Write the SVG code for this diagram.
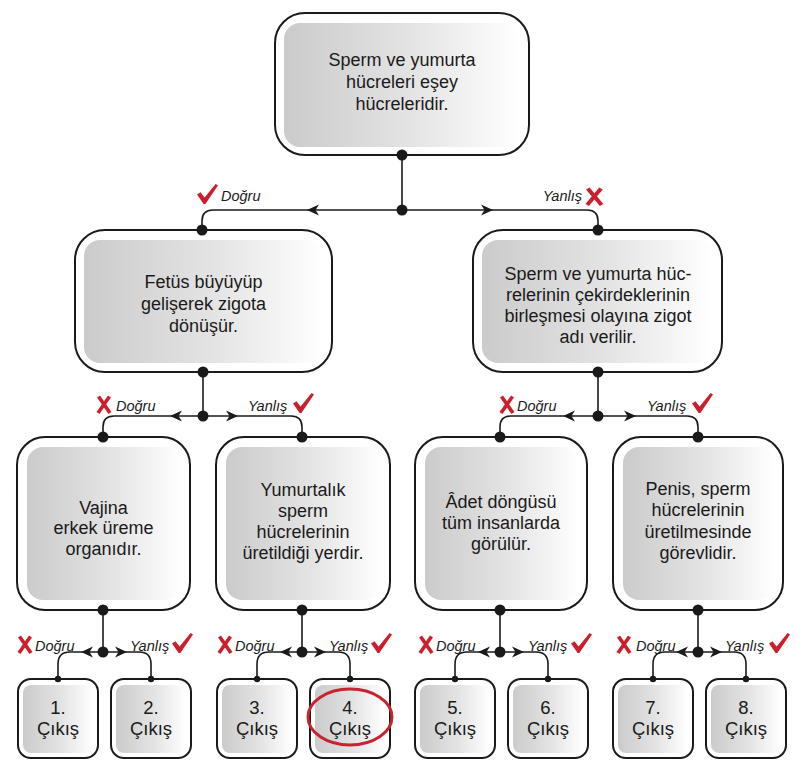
<svg xmlns="http://www.w3.org/2000/svg" xmlns:xlink="http://www.w3.org/1999/xlink" width="800" height="773" viewBox="0 0 800 773">
<defs>
<linearGradient id="g" x1="0" y1="0" x2="1" y2="0">
<stop offset="0" stop-color="#cbcbcb"/>
<stop offset="0.55" stop-color="#e4e4e4"/>
<stop offset="1" stop-color="#ffffff"/>
</linearGradient>
<path id="ah" d="M0,0 L12,-5.5 L8.5,0 L12,5.5 Z" fill="#1a1a1a"/>
<path id="chk" d="M0,10.5 L3.5,8.3 L7.6,13.4 L18.6,0 L21,1.6 L8.4,20 L6.6,20 Z" fill="#cc1f2d"/>
<g id="xm"><path d="M1.5,0.5 L13,17" /><path d="M12.5,0.5 L1,17"/></g>
<style>
.ob{fill:#ffffff;stroke:#1a1a1a;stroke-width:2}
.ib{fill:url(#g);stroke:none}
.t{font-family:"Liberation Sans",Arial,sans-serif;font-size:18px;fill:#1a1a1a;text-anchor:middle}
.tc{font-family:"Liberation Sans",Arial,sans-serif;font-size:18.5px;fill:#1a1a1a;text-anchor:middle}
.lb{font-family:"Liberation Sans",Arial,sans-serif;font-size:14.5px;font-style:italic;fill:#1a1a1a}
.ln{fill:none;stroke:#1a1a1a;stroke-width:1.6}
.d{fill:#1a1a1a}
.x{fill:none;stroke:#cc1f2d;stroke-width:3.6;stroke-linecap:butt}
</style>
</defs>

<!-- connectors -->
<g id="connectors">
<path class="ln" d="M402,155 V210"/>
<path class="ln" d="M202,230 V221 Q202,210 213,210 H587 Q598,210 598,221 V230"/>
<use href="#ah" x="307" y="210"/>
<use href="#ah" transform="translate(493,210) scale(-1,1)"/>

<path class="ln" d="M203,372 V416"/>
<path class="ln" d="M103,437 V427 Q103,416 114,416 H291 Q302,416 302,427 V437"/>
<use href="#ah" x="170" y="416"/>
<use href="#ah" transform="translate(238,416) scale(-1,1)"/>

<path class="ln" d="M598,372 V416"/>
<path class="ln" d="M500,437 V427 Q500,416 511,416 H687 Q698,416 698,427 V437"/>
<use href="#ah" x="563" y="416"/>
<use href="#ah" transform="translate(636,416) scale(-1,1)"/>

<path class="ln" d="M103,610 V652"/>
<path class="ln" d="M58,679 V664 Q58,652 70,652 H139 Q151,652 151,664 V679"/>
<use href="#ah" x="81" y="652"/>
<use href="#ah" transform="translate(127,652) scale(-1,1)"/>

<path class="ln" d="M302,610 V652"/>
<path class="ln" d="M257,679 V664 Q257,652 269,652 H338 Q350,652 350,664 V679"/>
<use href="#ah" x="280" y="652"/>
<use href="#ah" transform="translate(326,652) scale(-1,1)"/>

<path class="ln" d="M500,610 V652"/>
<path class="ln" d="M455,679 V664 Q455,652 467,652 H536 Q548,652 548,664 V679"/>
<use href="#ah" x="478" y="652"/>
<use href="#ah" transform="translate(524,652) scale(-1,1)"/>

<path class="ln" d="M698,610 V652"/>
<path class="ln" d="M653,679 V664 Q653,652 665,652 H734 Q746,652 746,664 V679"/>
<use href="#ah" x="676" y="652"/>
<use href="#ah" transform="translate(722,652) scale(-1,1)"/>

<g class="d">
<circle cx="402" cy="210" r="5.5"/>
<circle cx="203" cy="416" r="5.5"/>
<circle cx="598" cy="416" r="5.5"/>
<circle cx="103" cy="652" r="5.5"/>
<circle cx="302" cy="652" r="5.5"/>
<circle cx="500" cy="652" r="5.5"/>
<circle cx="698" cy="652" r="5.5"/>
</g>

<!-- labels -->
<use href="#chk" x="197" y="184"/>
<text class="lb" x="221" y="201">Doğru</text>
<text class="lb" x="582" y="201" text-anchor="end">Yanlış</text>
<use href="#xm" class="x" transform="translate(586,188) scale(1.2,1)"/>

<use href="#xm" class="x" x="97" y="396"/>
<text class="lb" x="116" y="411">Doğru</text>
<text class="lb" x="248" y="411">Yanlış</text>
<use href="#chk" x="293" y="393"/>

<use href="#xm" class="x" x="500" y="396"/>
<text class="lb" x="517" y="411">Doğru</text>
<text class="lb" x="647" y="411">Yanlış</text>
<use href="#chk" x="692" y="393"/>

<use href="#xm" class="x" x="18" y="636"/>
<text class="lb" x="35" y="651">Doğru</text>
<text class="lb" x="130" y="651">Yanlış</text>
<use href="#chk" x="172" y="633"/>

<use href="#xm" class="x" x="218" y="636"/>
<text class="lb" x="235" y="651">Doğru</text>
<text class="lb" x="329" y="651">Yanlış</text>
<use href="#chk" x="371" y="633"/>

<use href="#xm" class="x" x="419" y="636"/>
<text class="lb" x="436" y="651">Doğru</text>
<text class="lb" x="528" y="651">Yanlış</text>
<use href="#chk" x="571" y="633"/>

<use href="#xm" class="x" x="617" y="636"/>
<text class="lb" x="636" y="651">Doğru</text>
<text class="lb" x="725" y="651">Yanlış</text>
<use href="#chk" x="769" y="633"/>
</g>

<!-- top -->
<g id="n-top">
<rect class="ob" x="275" y="13" width="254" height="142" rx="30"/>
<rect class="ib" x="284" y="23" width="235" height="124" rx="16"/>
<text class="t" x="402" y="66">Sperm ve yumurta</text>
<text class="t" x="402" y="88">hücreleri eşey</text>
<text class="t" x="402" y="110">hücreleridir.</text>
<circle class="d" cx="402" cy="155" r="5.5"/>
</g>

<g id="n-l2a">
<rect class="ob" x="75" y="230" width="257" height="142" rx="30"/>
<rect class="ib" x="84" y="240" width="239" height="123" rx="16"/>
<text class="t" x="203.5" y="288">Fetüs büyüyüp</text>
<text class="t" x="203.5" y="310">gelişerek zigota</text>
<text class="t" x="203.5" y="332">dönüşür.</text>
<circle class="d" cx="202" cy="230" r="5.5"/>
<circle class="d" cx="203" cy="372" r="5.5"/>
</g>

<g id="n-l2b">
<rect class="ob" x="473" y="230" width="249" height="142" rx="30"/>
<rect class="ib" x="482" y="240" width="231" height="123" rx="16"/>
<text class="t" x="598" y="280">Sperm ve yumurta hüc-</text>
<text class="t" x="598" y="301">relerinin çekirdeklerinin</text>
<text class="t" x="598" y="322">birleşmesi olayına zigot</text>
<text class="t" x="598" y="343">adı verilir.</text>
<circle class="d" cx="598" cy="230" r="5.5"/>
<circle class="d" cx="598" cy="372" r="5.5"/>
</g>

<g id="n-l3a">
<rect class="ob" x="17" y="437" width="173" height="173" rx="28"/>
<rect class="ib" x="27" y="447" width="155" height="153" rx="16"/>
<text class="t" x="103.5" y="514">Vajina</text>
<text class="t" x="103.5" y="534">erkek üreme</text>
<text class="t" x="103.5" y="555">organıdır.</text>
<circle class="d" cx="103" cy="437" r="5.5"/>
<circle class="d" cx="103" cy="610" r="5.5"/>
</g>

<g id="n-l3b">
<rect class="ob" x="216" y="437" width="174" height="173" rx="28"/>
<rect class="ib" x="226" y="447" width="156" height="153" rx="16"/>
<text class="t" x="303" y="496">Yumurtalık</text>
<text class="t" x="303" y="517">sperm</text>
<text class="t" x="303" y="538">hücrelerinin</text>
<text class="t" x="303" y="559">üretildiği yerdir.</text>
<circle class="d" cx="302" cy="437" r="5.5"/>
<circle class="d" cx="302" cy="610" r="5.5"/>
</g>

<g id="n-l3c">
<rect class="ob" x="415" y="437" width="172" height="173" rx="28"/>
<rect class="ib" x="425" y="447" width="154" height="153" rx="16"/>
<text class="t" x="501" y="508">Âdet döngüsü</text>
<text class="t" x="501" y="529">tüm insanlarda</text>
<text class="t" x="501" y="550">görülür.</text>
<circle class="d" cx="500" cy="437" r="5.5"/>
<circle class="d" cx="500" cy="610" r="5.5"/>
</g>

<g id="n-l3d">
<rect class="ob" x="613" y="437" width="170" height="173" rx="28"/>
<rect class="ib" x="623" y="447" width="152" height="153" rx="16"/>
<text class="t" x="698" y="495">Penis, sperm</text>
<text class="t" x="698" y="516">hücrelerinin</text>
<text class="t" x="698" y="538">üretilmesinde</text>
<text class="t" x="698" y="559">görevlidir.</text>
<circle class="d" cx="698" cy="437" r="5.5"/>
<circle class="d" cx="698" cy="610" r="5.5"/>
</g>

<!-- exits -->
<g id="e1">
<rect class="ob" x="18" y="679" width="80" height="79" rx="13"/>
<rect class="ib" x="23" y="685" width="70" height="68" rx="8"/>
<text class="tc" x="58" y="714">1.</text><text class="tc" x="58" y="735">Çıkış</text>
<circle class="d" cx="58" cy="679" r="3.2"/>
</g>
<g id="e2">
<rect class="ob" x="111" y="679" width="80" height="79" rx="13"/>
<rect class="ib" x="116" y="685" width="70" height="68" rx="8"/>
<text class="tc" x="151" y="714">2.</text><text class="tc" x="151" y="735">Çıkış</text>
<circle class="d" cx="151" cy="679" r="3.2"/>
</g>
<g id="e3">
<rect class="ob" x="217" y="679" width="80" height="79" rx="13"/>
<rect class="ib" x="222" y="685" width="70" height="68" rx="8"/>
<text class="tc" x="257" y="714">3.</text><text class="tc" x="257" y="735">Çıkış</text>
<circle class="d" cx="257" cy="679" r="3.2"/>
</g>
<g id="e4">
<rect class="ob" x="310" y="679" width="80" height="79" rx="13"/>
<rect class="ib" x="315" y="685" width="70" height="68" rx="8"/>
<text class="tc" x="350" y="714">4.</text><text class="tc" x="350" y="735">Çıkış</text>
<circle class="d" cx="350" cy="679" r="3.2"/>
<ellipse cx="350" cy="717" rx="42" ry="28" fill="none" stroke="#c62430" stroke-width="3"/>
</g>
<g id="e5">
<rect class="ob" x="415" y="679" width="80" height="79" rx="13"/>
<rect class="ib" x="420" y="685" width="70" height="68" rx="8"/>
<text class="tc" x="455" y="714">5.</text><text class="tc" x="455" y="735">Çıkış</text>
<circle class="d" cx="455" cy="679" r="3.2"/>
</g>
<g id="e6">
<rect class="ob" x="508" y="679" width="80" height="79" rx="13"/>
<rect class="ib" x="513" y="685" width="70" height="68" rx="8"/>
<text class="tc" x="548" y="714">6.</text><text class="tc" x="548" y="735">Çıkış</text>
<circle class="d" cx="548" cy="679" r="3.2"/>
</g>
<g id="e7">
<rect class="ob" x="613" y="679" width="80" height="79" rx="13"/>
<rect class="ib" x="618" y="685" width="70" height="68" rx="8"/>
<text class="tc" x="653" y="714">7.</text><text class="tc" x="653" y="735">Çıkış</text>
<circle class="d" cx="653" cy="679" r="3.2"/>
</g>
<g id="e8">
<rect class="ob" x="706" y="679" width="80" height="79" rx="13"/>
<rect class="ib" x="711" y="685" width="70" height="68" rx="8"/>
<text class="tc" x="746" y="714">8.</text><text class="tc" x="746" y="735">Çıkış</text>
<circle class="d" cx="746" cy="679" r="3.2"/>
</g>
</svg>
